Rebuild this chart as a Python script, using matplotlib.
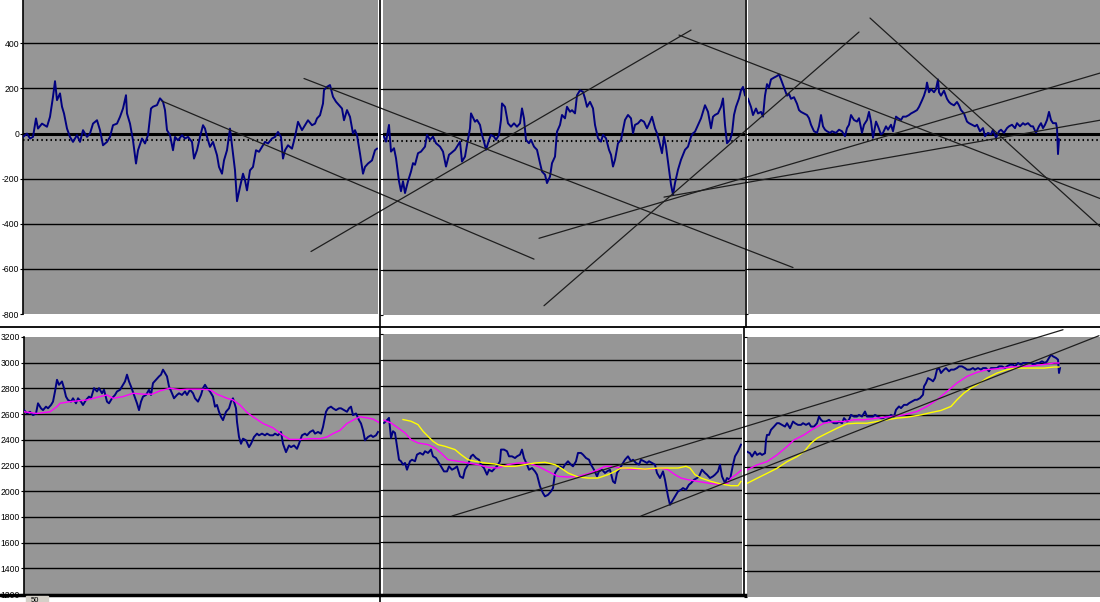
import matplotlib
matplotlib.use("Agg")
import matplotlib.pyplot as plt
from matplotlib.patches import ConnectionPatch, Rectangle
from matplotlib.lines import Line2D

plt.rcParams['font.family'] = ['Liberation Sans', 'DejaVu Sans']

# ---- oscillator (top row), one window per panel ----
osc_a_days = [0, 4, 7, 10, 13, 15, 19, 24, 27, 30,
              32, 34, 37, 39, 41, 44, 47, 50, 54, 57,
              60, 64, 67, 70, 74, 77, 80, 84, 87, 90,
              94, 97, 100, 103, 104, 107, 110, 113, 115, 119,
              122, 125, 128, 130, 134, 137, 140, 142, 144, 147,
              150, 152, 155, 159, 162, 165, 169, 171, 174, 177,
              180, 182, 184, 187, 190, 194, 196, 199, 201, 204,
              207, 210, 212, 214, 217, 220, 222, 224, 227, 230,
              233, 236, 239, 242, 245, 249, 252, 255, 258, 260,
              262, 265, 269, 272, 275, 279, 282, 285, 289, 292,
              294, 297, 300, 301, 304, 307, 310, 313, 316, 319,
              321, 324, 327, 330, 332, 334, 337, 340, 342, 345,
              349, 352, 354]
osc_a = [-15, 0, -22, -15, 67, 22, 44, 30, 74, 163,
         232, 148, 178, 119, 89, 22, -15, -37, -7, -37,
         15, -15, 0, 44, 59, 15, -52, -37, -15, 37,
         44, 74, 111, 170, 89, 44, -30, -133, -74, -22,
         -44, -7, 111, 119, 126, 156, 141, 104, 15, -7,
         -74, -15, -30, -7, -22, -15, -37, -111, -74, -15,
         37, 22, -15, -59, -37, -96, -148, -178, -119, -74,
         22, -89, -163, -300, -237, -178, -207, -252, -163, -148,
         -74, -81, -59, -37, -44, -22, -15, 7, -15, -111,
         -74, -52, -67, -15, 52, 15, 37, 59, 37, 44,
         67, 81, 133, 193, 207, 215, 163, 141, 126, 111,
         59, 104, 74, 0, 15, -7, -89, -178, -148, -133,
         -119, -74, -67]

osc_b_days = [1, 3, 6, 8, 11, 13, 16, 18, 20, 22,
              25, 28, 30, 32, 35, 38, 42, 44, 47, 50,
              53, 57, 60, 63, 66, 68, 72, 74, 77, 79,
              82, 84, 87, 88, 92, 94, 97, 99, 101, 103,
              106, 108, 111, 113, 116, 118, 119, 122, 125, 128,
              131, 134, 137, 139, 141, 143, 146, 148, 151, 154,
              157, 159, 162, 164, 167, 169, 172, 174, 177, 179,
              182, 184, 187, 189, 192, 194, 197, 200, 202, 204,
              207, 210, 212, 215, 218, 220, 223, 226, 228, 230,
              232, 235, 238, 240, 242, 245, 248, 250, 252, 255,
              258, 261, 264, 267, 269, 272, 274, 277, 279, 281,
              283, 286, 288, 290, 292, 295, 298, 300, 302, 305,
              308, 310, 312, 315, 318, 320, 322, 325, 328, 330,
              332, 335, 338, 340, 342, 344, 347, 349, 351, 353,
              356, 358, 360, 362]
osc_b = [-12, -34, 40, -78, -63, -107, -209, -253, -209, -261,
         -209, -166, -129, -136, -85, -78, -56, -4, -26, -12,
         -41, -56, -78, -144, -92, -85, -70, -56, -34, -122,
         -100, -48, 25, 91, 54, 62, 40, -4, -34, -70,
         -26, -4, -12, -26, -4, 62, 135, 120, 47, 32,
         47, 32, 47, 113, 69, -26, -41, -26, -56, -70,
         -129, -166, -180, -217, -188, -129, -100, 10, 40, 84,
         69, 120, 98, 105, 91, 171, 193, 186, 157, 120,
         142, 113, 40, -19, -34, -4, -19, -70, -92, -144,
         -114, -41, -26, 18, 62, 84, 69, 3, 40, 47,
         62, 54, 25, 54, 76, 25, 3, -48, -85, -12,
         -56, -158, -224, -268, -217, -158, -114, -92, -70, -56,
         -12, 3, 10, 40, 69, 98, 127, 98, 25, 76,
         84, 91, 120, 157, 40, -41, -26, 3, 84, 120,
         157, 193, 208, 171]

osc_c_days = [0, 3, 5, 8, 10, 13, 15, 17, 19, 21,
              23, 26, 29, 31, 33, 36, 39, 41, 43, 46,
              49, 51, 53, 56, 59, 61, 63, 66, 69, 71,
              73, 75, 77, 79, 82, 84, 88, 91, 94, 97,
              99, 101, 103, 106, 109, 111, 114, 116, 119, 121,
              123, 125, 128, 130, 133, 135, 138, 140, 143, 145,
              148, 150, 153, 155, 158, 161, 163, 166, 169, 171,
              174, 176, 178, 179, 181, 183, 186, 188, 190, 191,
              193, 196, 199, 201, 203, 206, 209, 211, 213, 216,
              219, 221, 224, 227, 229, 232, 235, 237, 240, 243,
              245, 248, 251, 253, 256, 259, 261, 264, 267, 269,
              272, 275, 277, 280, 283, 285, 288, 291, 293, 295,
              297, 299, 301, 303, 305, 308, 309, 310, 311]
osc_c = [154, 118, 82, 111, 89, 96, 75, 168, 219, 204,
         240, 248, 255, 262, 240, 204, 168, 176, 154, 161,
         132, 104, 96, 89, 82, 68, 39, 10, 3, 32,
         82, 32, 17, 10, 3, 10, 3, 17, 10, -12,
         24, 39, 82, 60, 53, 68, 3, 39, 60, 96,
         53, -19, 53, 32, -4, 3, 32, 17, 39, 10,
         75, 68, 60, 75, 75, 82, 89, 96, 104, 118,
         147, 168, 197, 226, 183, 197, 183, 197, 240, 183,
         168, 190, 154, 140, 132, 125, 140, 125, 104, 89,
         53, 46, 39, 32, 39, 10, 24, -12, 3, -4,
         17, -19, 10, 17, 3, 24, 32, 39, 24, 46,
         32, 46, 39, 46, 32, 32, 3, 32, 46, 24,
         39, 60, 96, 60, 46, 46, 24, -91, -26]

# ---- price (bottom row) ----
px_d_days = [0, 3, 6, 9, 12, 14, 17, 19, 22, 24,
             27, 29, 31, 33, 35, 38, 40, 42, 44, 47,
             49, 52, 54, 57, 59, 62, 65, 67, 70, 73,
             75, 78, 80, 83, 85, 88, 91, 93, 96, 99,
             101, 103, 105, 107, 110, 113, 115, 117, 119, 122,
             125, 127, 129, 132, 135, 137, 139, 141, 143, 145,
             148, 150, 153, 155, 158, 161, 163, 166, 169, 171,
             174, 177, 179, 181, 183, 186, 189, 191, 193, 195,
             197, 199, 202, 205, 207, 209, 212, 213, 215, 217,
             219, 222, 225, 227, 230, 233, 235, 238, 241, 243,
             246, 249, 251, 254, 257, 259, 262, 265, 267, 270,
             273, 275, 278, 281, 283, 286, 289, 291, 294, 297,
             299, 302, 304, 307, 309, 312, 315, 317, 320, 323,
             325, 327, 329, 332, 335, 337, 339, 341, 344, 347,
             349, 352, 354]
px_d = [2631, 2605, 2618, 2592, 2605, 2684, 2645, 2631, 2658, 2645,
        2671, 2697, 2776, 2867, 2828, 2854, 2802, 2736, 2710, 2697,
        2723, 2684, 2723, 2697, 2671, 2710, 2736, 2723, 2802, 2776,
        2802, 2762, 2789, 2697, 2684, 2723, 2749, 2776, 2789, 2828,
        2854, 2907, 2854, 2815, 2749, 2684, 2631, 2697, 2736, 2749,
        2789, 2749, 2841, 2867, 2893, 2907, 2946, 2920, 2893, 2815,
        2762, 2723, 2749, 2762, 2749, 2776, 2749, 2789, 2762, 2723,
        2697, 2749, 2802, 2828, 2802, 2776, 2736, 2658, 2671, 2618,
        2579, 2553, 2618, 2645, 2697, 2723, 2645, 2540, 2422, 2369,
        2409, 2396, 2343, 2369, 2422, 2448, 2435, 2448, 2435, 2448,
        2435, 2435, 2448, 2435, 2461, 2369, 2304, 2356, 2343, 2356,
        2330, 2369, 2435, 2448, 2435, 2461, 2474, 2448, 2461, 2448,
        2500, 2618, 2645, 2658, 2645, 2631, 2645, 2645, 2631, 2618,
        2645, 2658, 2592, 2605, 2553, 2527, 2474, 2396, 2422, 2435,
        2422, 2435, 2461]
ma_d_days = [0, 13, 26, 33, 36, 46, 63, 76, 83, 89,
             99, 109, 119, 128, 136, 146, 156, 163, 176, 186,
             193, 203, 209, 216, 223, 229, 239, 249, 259, 266,
             276, 286, 296, 303, 309, 316, 323, 329, 336, 343,
             349, 355]
ma_d = [2618, 2605, 2618, 2658, 2684, 2697, 2710, 2736, 2749, 2723,
        2736, 2762, 2755, 2755, 2781, 2802, 2789, 2794, 2794, 2789,
        2755, 2723, 2710, 2671, 2613, 2579, 2527, 2493, 2435, 2403,
        2403, 2409, 2409, 2422, 2448, 2474, 2527, 2553, 2579, 2571,
        2561, 2535]

px_e_days = [1, 3, 6, 8, 10, 12, 14, 16, 18, 20,
             22, 24, 27, 29, 32, 34, 37, 40, 42, 45,
             48, 50, 53, 56, 58, 61, 64, 66, 69, 72,
             74, 77, 80, 82, 85, 88, 90, 93, 96, 98,
             101, 104, 106, 109, 112, 114, 117, 118, 121, 124,
             126, 129, 132, 134, 137, 139, 141, 144, 146, 149,
             152, 154, 157, 160, 162, 165, 168, 170, 172, 174,
             177, 180, 182, 185, 188, 190, 193, 195, 198, 200,
             203, 206, 208, 211, 214, 216, 219, 222, 224, 227,
             230, 232, 234, 237, 240, 242, 245, 248, 250, 253,
             256, 258, 261, 264, 266, 269, 272, 274, 277, 280,
             282, 285, 287, 290, 292, 295, 298, 300, 303, 306,
             308, 311, 314, 316, 319, 322, 324, 327, 330, 332,
             335, 337, 339, 342, 344, 347, 350, 352, 355, 358]
px_e = [2516, 2529, 2555, 2401, 2452, 2439, 2336, 2233, 2221, 2195,
        2208, 2156, 2221, 2233, 2221, 2272, 2285, 2272, 2298, 2285,
        2311, 2259, 2246, 2208, 2182, 2143, 2143, 2182, 2156, 2169,
        2182, 2105, 2092, 2156, 2195, 2259, 2272, 2246, 2233, 2195,
        2169, 2118, 2156, 2143, 2169, 2182, 2221, 2311, 2311, 2298,
        2259, 2259, 2246, 2259, 2272, 2311, 2246, 2195, 2156, 2169,
        2143, 2118, 2028, 1976, 1951, 1963, 1989, 2015, 2131, 2156,
        2182, 2169, 2195, 2221, 2195, 2182, 2221, 2285, 2285, 2272,
        2246, 2233, 2195, 2156, 2105, 2143, 2156, 2131, 2143, 2156,
        2066, 2053, 2131, 2169, 2208, 2233, 2259, 2221, 2233, 2208,
        2195, 2233, 2221, 2208, 2221, 2208, 2195, 2131, 2092, 2143,
        2079, 1951, 1886, 1925, 1951, 1989, 2002, 2015, 2002, 2041,
        2053, 2079, 2092, 2105, 2156, 2131, 2118, 2092, 2105, 2118,
        2143, 2195, 2105, 2053, 2092, 2079, 2195, 2259, 2298, 2349]
ma_e_days = [1, 8, 15, 22, 28, 35, 45, 52, 58, 65,
             75, 85, 95, 105, 115, 125, 135, 145, 155, 165,
             175, 185, 195, 205, 215, 222, 228, 238, 248, 258,
             268, 278, 285, 292, 298, 305, 315, 325, 332, 338,
             345, 348, 353, 358]
ma_e = [2537, 2516, 2478, 2439, 2388, 2362, 2349, 2323, 2285, 2233,
        2221, 2208, 2195, 2174, 2169, 2195, 2208, 2208, 2182, 2143,
        2105, 2100, 2105, 2125, 2156, 2182, 2182, 2169, 2161, 2161,
        2161, 2169, 2156, 2118, 2092, 2079, 2066, 2053, 2046, 2046,
        2053, 2092, 2118, 2151]
slow_e_days = [20, 28, 35, 40, 45, 50, 55, 62, 72, 78,
               85, 92, 102, 112, 122, 132, 142, 152, 162, 172,
               178, 185, 195, 205, 215, 225, 232, 238, 248, 262,
               275, 285, 295, 303, 307, 312, 318, 328, 338, 348,
               355, 358]
slow_e = [2542, 2529, 2503, 2452, 2413, 2375, 2349, 2336, 2311, 2272,
          2233, 2221, 2208, 2200, 2182, 2182, 2195, 2208, 2213, 2195,
          2169, 2131, 2100, 2092, 2092, 2118, 2143, 2169, 2169, 2161,
          2169, 2169, 2169, 2182, 2169, 2118, 2092, 2066, 2046, 2033,
          2033, 2066]

px_f_days = [0, 3, 5, 8, 10, 13, 15, 18, 19, 20,
             22, 24, 27, 30, 32, 35, 38, 40, 43, 46,
             48, 51, 54, 56, 59, 62, 64, 67, 70, 72,
             74, 76, 79, 82, 84, 87, 90, 92, 95, 97,
             100, 102, 104, 107, 110, 112, 115, 118, 120, 123,
             126, 128, 131, 134, 136, 139, 142, 144, 147, 149,
             152, 154, 157, 160, 162, 165, 168, 170, 173, 176,
             177, 179, 181, 184, 186, 188, 190, 192, 194, 197,
             199, 202, 204, 207, 210, 212, 215, 218, 220, 223,
             226, 228, 231, 234, 236, 239, 242, 244, 247, 250,
             252, 255, 258, 260, 263, 266, 268, 271, 274, 276,
             279, 282, 284, 287, 290, 292, 295, 298, 300, 302,
             304, 306, 309, 311, 312, 313]
px_f = [2318, 2306, 2280, 2318, 2293, 2306, 2293, 2306, 2408, 2447,
        2447, 2486, 2511, 2537, 2537, 2524, 2511, 2537, 2498, 2550,
        2537, 2524, 2524, 2537, 2524, 2537, 2511, 2511, 2537, 2588,
        2563, 2550, 2550, 2563, 2550, 2537, 2537, 2550, 2537, 2576,
        2550, 2563, 2601, 2588, 2588, 2601, 2588, 2627, 2588, 2588,
        2588, 2601, 2588, 2576, 2576, 2588, 2588, 2601, 2588, 2640,
        2666, 2653, 2678, 2678, 2691, 2704, 2717, 2717, 2730, 2756,
        2820, 2846, 2884, 2871, 2859, 2884, 2949, 2961, 2923, 2949,
        2961, 2936, 2949, 2949, 2961, 2974, 2974, 2961, 2949, 2949,
        2961, 2949, 2961, 2949, 2961, 2961, 2936, 2961, 2961, 2961,
        2974, 2974, 2961, 2974, 2987, 2987, 2974, 3000, 2987, 3000,
        3000, 3000, 3000, 2987, 3000, 3000, 3013, 3000, 3013, 3039,
        3064, 3051, 3039, 3026, 2923, 2961]
ma_f_days = [0, 10, 20, 30, 40, 47, 57, 67, 77, 87,
             97, 107, 117, 130, 144, 157, 170, 180, 190, 200,
             210, 220, 230, 240, 250, 264, 277, 290, 300, 307, 312]
ma_f = [2177, 2216, 2241, 2293, 2357, 2408, 2447, 2498, 2537, 2550,
        2550, 2563, 2563, 2576, 2588, 2601, 2627, 2666, 2717, 2781,
        2846, 2897, 2928, 2949, 2956, 2969, 2974, 2982, 2992, 3000, 3000]
slow_f_days = [0, 10, 20, 30, 40, 50, 57, 64, 70, 80,
               90, 100, 110, 120, 130, 140, 150, 160, 174, 184,
               194, 204, 210, 217, 224, 230, 240, 250, 260, 270,
               284, 297, 307, 312]
slow_f = [2074, 2113, 2151, 2190, 2241, 2280, 2318, 2383, 2421, 2460,
          2498, 2532, 2537, 2537, 2550, 2563, 2576, 2583, 2601, 2619,
          2635, 2666, 2717, 2769, 2807, 2833, 2884, 2923, 2949, 2961,
          2961, 2961, 2969, 2969]

# hand-drawn trend lines: (panel, day, value) -> (panel, day, value)
trend_lines = [
    ("A", 139, 144, "B", 151, -553),
    ("A", 281, 244, "C", 45, -594),
    ("A", 288, -523, "B", 308, 459),
    ("B", 296, 437, "C", 352, -288),
    ("B", 161, -759, "C", 111, 450),
    ("C", 122, 512, "C", 352, -412),
    ("B", 156, -461, "C", 352, 268),
    ("B", 281, -279, "C", 352, 59),
    ("E", 69, 1800, "F", 316, 3256),
    ("E", 258, 1800, "F", 352, 3210),
]

osc_ticks = [-800, -600, -400, -200, 0, 200, 400]
osc_labels = ['-800', '-600', '-400', '-200', '0', '200', '400']
px_ticks = list(range(1200, 3201, 200))
px_labels = [str(t) for t in px_ticks]

W, H = 1100, 602
GRAY = '#969696'
NAVY = '#000080'

fig = plt.figure(figsize=(W / 100, H / 100), dpi=100)
fig.patch.set_facecolor('white')


def rect(x0, y0, x1, y1):
    return [x0 / W, 1 - y1 / H, (x1 - x0) / W, (y1 - y0) / H]


def make_panel(box, width, ylim, ticks, labels, grid, show_labels):
    ax = fig.add_axes(rect(*box))
    ax.set_facecolor(GRAY)
    ax.set_xlim(0, width)
    ax.set_ylim(*ylim)
    ax.set_xticks([])
    ax.set_yticks(ticks)
    ax.set_yticklabels(labels if show_labels else [])
    ax.tick_params(axis='y', length=2.2, width=0.8, pad=0.6, labelsize=6.2)
    for s in ax.spines.values():
        s.set_visible(False)
    if show_labels:
        ax.spines['left'].set_visible(True)
        ax.spines['left'].set_linewidth(1.2)
    for g in grid:
        ax.axhline(g, color='black', lw=1.0, zorder=1)
    return ax


axes = {}
top_grid = [-600, -400, -200, 200, 400]
for key, box, width, days, vals in [
        ("A", (23, 0, 378, 314), 355, osc_a_days, osc_a),
        ("B", (383, 0, 745, 315), 362, osc_b_days, osc_b),
        ("C", (748, 0, 1100, 314), 352, osc_c_days, osc_c)]:
    ax = make_panel(box, width, (-800, 592), osc_ticks, osc_labels,
                    top_grid, key == "A")
    ax.axhline(0, color='black', lw=2.2, zorder=2)
    ax.axhline(-30, color='black', lw=1.5, ls=(0, (0.7, 1.5)), zorder=2)
    ax.plot(days, vals, color=NAVY, lw=1.4, zorder=3)
    axes[key] = ax

bot_grid = list(range(1400, 3001, 200))
for key, box, width, days, vals in [
        ("D", (24, 337, 380, 594), 356, px_d_days, px_d),
        ("E", (383, 334, 742, 594), 359, px_e_days, px_e),
        ("F", (747, 337, 1100, 597), 353, px_f_days, px_f)]:
    ax = make_panel(box, width, (1200, 3200), px_ticks, px_labels,
                    bot_grid, key == "D")
    ax.plot(days, vals, color=NAVY, lw=1.4, zorder=3)
    axes[key] = ax

axes["D"].plot(ma_d_days, ma_d, color='#FF00FF', lw=1.0, zorder=4)
axes["E"].plot(ma_e_days, ma_e, color='#FF00FF', lw=1.0, zorder=4)
axes["E"].plot(slow_e_days, slow_e, color='#FFFF00', lw=1.0, zorder=4)
axes["F"].plot(ma_f_days, ma_f, color='#FF00FF', lw=1.0, zorder=4)
axes["F"].plot(slow_f_days, slow_f, color='#FFFF00', lw=1.0, zorder=4)

for pa, xa, ya, pb, xb, yb in trend_lines:
    con = ConnectionPatch(xyA=(xa, ya), coordsA=axes[pa].transData,
                          xyB=(xb, yb), coordsB=axes[pb].transData,
                          color='#1e1e1e', lw=0.9, zorder=5)
    fig.add_artist(con)


# chart object frames (screenshot layout)
def fig_line(x0, y0, x1, y1, lw):
    fig.add_artist(Line2D([x0 / W, x1 / W], [1 - y0 / H, 1 - y1 / H],
                          transform=fig.transFigure, color='black',
                          lw=lw, zorder=6))


fig_line(0, 327, W, 327, 1.3)
fig_line(380, 0, 380, H, 1.2)
fig_line(745.5, 0, 745.5, 327, 1.2)
fig_line(744.5, 327, 744.5, 595, 1.2)
fig_line(0, 595, 745, 595, 2.5)

# sheet tab stub at the bottom right of the labels
fig.add_artist(Rectangle((26 / W, 0), 22 / W, 6 / H, transform=fig.transFigure,
                         color='#d4d0c8', zorder=7))
fig.text(31 / W, 0.2 / H, "50", fontsize=5.5, zorder=8)

fig.savefig("out.png", dpi=100)
